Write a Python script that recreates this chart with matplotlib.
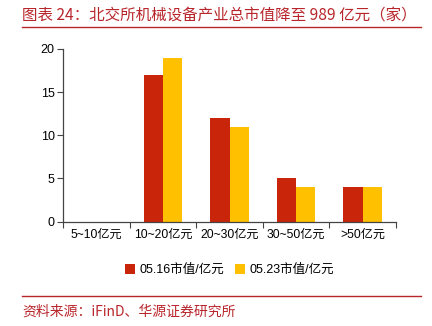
import matplotlib
matplotlib.use('Agg')
import matplotlib.pyplot as plt
import numpy as np

plt.rcParams['font.family'] = ['Liberation Sans', 'Noto Sans CJK SC', 'DejaVu Sans']

# data
categories = ['5~10亿元', '10~20亿元', '20~30亿元', '30~50亿元', '>50亿元']
series_names = ['05.16市值/亿元', '05.23市值/亿元']
val_0516 = [0, 17, 12, 5, 4]
val_0523 = [0, 19, 11, 4, 4]

RED = '#C8250A'
YELLOW = '#FFC000'
TITLE_RED = '#B8262B'

fig = plt.figure(figsize=(4.32, 3.26), dpi=100)
ax = fig.add_axes([0.1458, 0.32, 0.7709, 0.53])

x = np.arange(len(categories))
w = 0.29
ax.bar(x - w / 2, val_0516, w, color=RED, label=series_names[0])
ax.bar(x + w / 2, val_0523, w, color=YELLOW, label=series_names[1])

ax.set_xlim(-0.5, len(categories) - 0.5)
ax.set_ylim(0, 20)
ax.set_yticks([0, 5, 10, 15, 20])
ax.set_xticks(x)
ax.set_xticklabels(categories, fontsize=8.7)
ax.set_xticks(np.arange(-0.5, len(categories)), minor=True)
ax.tick_params(axis='x', which='major', length=0, pad=5)
ax.tick_params(axis='x', which='minor', length=4, width=0.8, color='#444444')
ax.tick_params(axis='y', length=4, width=0.8, color='#444444', labelsize=9, pad=2)
for s in ['top', 'right']:
    ax.spines[s].set_visible(False)
for s in ['left', 'bottom']:
    ax.spines[s].set_color('#444444')
    ax.spines[s].set_linewidth(0.9)

ax.legend(loc='upper center', bbox_to_anchor=(0.5, -0.18), ncol=2, frameon=False,
          fontsize=9, handlelength=0.8, handleheight=0.8, handletextpad=0.4,
          columnspacing=0.8)

# title and source
fig.text(0.051, 0.955, '图表 24：北交所机械设备产业总市值降至 989 亿元（家）',
         fontsize=11.2, color=TITLE_RED, va='center', ha='left',
         family=['Noto Sans CJK SC', 'DejaVu Sans'])
fig.add_artist(plt.Line2D([0.051, 0.975], [0.918, 0.918], color=TITLE_RED, lw=1.0))
fig.add_artist(plt.Line2D([0.051, 0.975], [0.093, 0.093], color=TITLE_RED, lw=1.0))
fig.text(0.051, 0.045, '资料来源：iFinD、华源证券研究所', fontsize=10, color=TITLE_RED,
         va='center', ha='left', family=['Noto Sans CJK SC', 'DejaVu Sans'])

fig.savefig('out.png', dpi=100, facecolor='white')
